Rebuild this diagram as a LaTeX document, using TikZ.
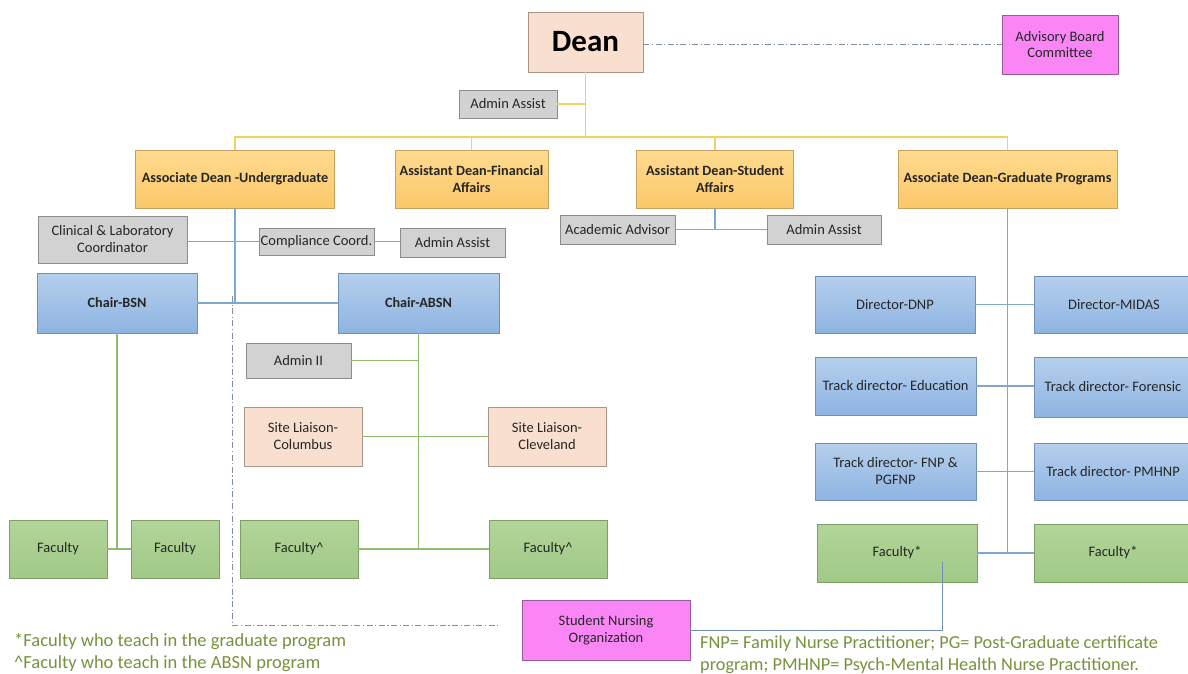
\documentclass[tikz,border=0pt]{standalone}
\usepackage{fontspec}
\setmainfont{Carlito}
\definecolor{txt}{HTML}{262626}
\definecolor{grayfill}{HTML}{D2D2D2}
\definecolor{grayline}{HTML}{8C8C8C}
\definecolor{peachfill}{HTML}{F9DFCF}
\definecolor{peachline}{HTML}{A8968A}
\definecolor{pinkfill}{HTML}{FA86F6}
\definecolor{pinkline}{HTML}{9A5A98}
\definecolor{orangetop}{HTML}{FFDA8E}
\definecolor{orangebot}{HTML}{FAC86A}
\definecolor{orangeline}{HTML}{C3A35F}
\definecolor{bluetop}{HTML}{B5CFEC}
\definecolor{bluebot}{HTML}{8EB4E2}
\definecolor{blueline}{HTML}{6F8FB8}
\definecolor{greentop}{HTML}{B2D599}
\definecolor{greenbot}{HTML}{A0C986}
\definecolor{greenline}{HTML}{7E9E66}
\definecolor{yconn}{HTML}{F0D35E}
\definecolor{bconn}{HTML}{7EA7D2}
\definecolor{gconn}{HTML}{8FBD6C}
\definecolor{dconn}{HTML}{7F8EA0}
\definecolor{notegreen}{HTML}{76923C}
\begin{document}
\begin{tikzpicture}[x=1pt,y=-1pt,
  base/.style={rectangle, line width=0.8pt, inner sep=2pt, align=center, text=txt,
    font=\fontsize{14.5}{17}\selectfont},
  sz/.style 2 args={minimum width=#1, minimum height=#2},
  graybox/.style={base, draw=grayline, fill=grayfill},
  peachbox/.style={base, draw=peachline, fill=peachfill},
  pinkbox/.style={base, draw=pinkline, fill=pinkfill, font=\fontsize{14.5}{16.5}\selectfont},
  orangebox/.style={base, draw=orangeline, top color=orangetop, bottom color=orangebot,
    font=\fontsize{14.2}{16.5}\selectfont\bfseries},
  bluebox/.style={base, draw=blueline, top color=bluetop, bottom color=bluebot},
  greenbox/.style={base, draw=greenline, top color=greentop, bottom color=greenbot},
  yl/.style={draw=yconn, line width=1.5pt},
  bl/.style={draw=bconn, line width=1.5pt},
  gl/.style={draw=gconn, line width=1.5pt},
  dashdot/.style={draw=dconn, line width=0.9pt, dash pattern=on 6pt off 2.5pt on 1.2pt off 2.5pt},
  note/.style={anchor=north west, align=left, text=notegreen, inner sep=0pt}
]
\useasboundingbox (0,0) rectangle (1188,674);

% top level
\node[peachbox, sz={115}{60}, font=\fontsize{31}{34}\selectfont\bfseries, text=black] (dean) at (585.5,42) {Dean};
\node[pinkbox, sz={116}{59}] (adv) at (1060,44.5) {Advisory Board\\Committee};
\node[graybox, sz={98}{28}] (aa1) at (508,104) {Admin Assist};

% deans
\node[orangebox, sz={199}{58}] (audg) at (235,179) {Associate Dean -Undergraduate};
\node[orangebox, sz={153}{58}] (afin) at (471.5,179) {Assistant Dean-Financial\\Affairs};
\node[orangebox, sz={157}{58}] (astu) at (715,179) {Assistant Dean-Student\\Affairs};
\node[orangebox, sz={219}{58}] (agrad) at (1007.5,179) {Associate Dean-Graduate Programs};

% undergraduate staff
\node[graybox, sz={149}{47}] (clin) at (112.5,239.5) {Clinical \& Laboratory\\Coordinator};
\node[graybox, sz={115}{27}, inner sep=0pt] (comp) at (316.5,241.5) {Compliance Coord.};
\node[graybox, sz={105}{29}] (aa2) at (452.5,242.5) {Admin Assist};
\node[graybox, sz={115}{29}] (acad) at (617.5,229.5) {Academic Advisor};
\node[graybox, sz={114}{29}] (aa3) at (824,229.5) {Admin Assist};

% chairs
\node[bluebox, sz={160}{60}, font=\fontsize{14.2}{16.5}\selectfont\bfseries] (cbsn) at (117,303) {Chair-BSN};
\node[bluebox, sz={161}{60}, font=\fontsize{14.2}{16.5}\selectfont\bfseries] (cabsn) at (418.5,303) {Chair-ABSN};
\node[graybox, sz={105}{35}] (adm2) at (298.5,360.5) {Admin II};
\node[peachbox, sz={118}{59}] (slcol) at (303,436.5) {Site Liaison-\\Columbus};
\node[peachbox, sz={118}{59}] (slcle) at (547,436.5) {Site Liaison-\\Cleveland};

% faculty undergraduate
\node[greenbox, sz={98}{58}] (fac1) at (58,549) {Faculty};
\node[greenbox, sz={88}{58}] (fac2) at (175,549) {Faculty};
\node[greenbox, sz={118}{58}] (faca1) at (299,549) {Faculty\^{}};
\node[greenbox, sz={118}{58}] (faca2) at (548,549) {Faculty\^{}};

% graduate
\node[bluebox, sz={160}{57}] (dnp) at (895,304.5) {Director-DNP};
\node[bluebox, sz={160}{57}] (midas) at (1114,304.5) {Director-MIDAS};
\node[bluebox, sz={161}{58}] (tedu) at (895.5,386) {Track director- Education};
\node[bluebox, sz={158}{60}] (tfor) at (1113,387) {Track director- Forensic};
\node[bluebox, sz={161}{57}] (tfnp) at (895.5,471.5) {Track director- FNP \&\\PGFNP};
\node[bluebox, sz={158}{57}] (tpmh) at (1113,471.5) {Track director- PMHNP};
\node[greenbox, sz={160}{58}] (facs1) at (897,553) {Faculty*};
\node[greenbox, sz={158}{58}] (facs2) at (1113,553) {Faculty*};

\node[pinkbox, sz={168}{60}] (sno) at (606,630) {Student Nursing\\Organization};

% notes
\node[note, font=\fontsize{18.5}{22}\selectfont] (n1) at (14,633) {*Faculty who teach in the graduate program\\\^{}Faculty who teach in the ABSN program};
\node[note, font=\fontsize{18.3}{21.5}\selectfont] (n2) at (700,636) {FNP= Family Nurse Practitioner; PG= Post-Graduate certificate\\program; PMHNP= Psych-Mental Health Nurse Practitioner.};

% yellow connectors
\coordinate (hb) at (585.5,137);
\draw[yl] (dean.south) -- (hb);
\draw[yl] (aa1.east) -- (aa1.east -| dean.south);
\draw[yl] (audg.north) |- (hb) -| (agrad.north);
\draw[yl] (afin.north) -- (afin.north |- hb);
\draw[yl] (astu.north) -- (astu.north |- hb);

% dashed to advisory
\draw[dashdot] (dean.east |- adv.west) -- (adv.west);

% blue undergraduate
\draw[bl] (audg.south) -- (audg.south |- cbsn.east);
\draw[bl] (cbsn.east) -- (cabsn.west);
\draw[bl] (comp.west) -- (comp.west -| clin.east);
\draw[bl] (comp.east) -- (comp.east -| aa2.west);
\draw[bl] (astu.south) -- (astu.south |- acad.east);
\draw[bl] (acad.east) -- (aa3.west);

% green undergraduate
\draw[gl] (cbsn.south) -- (cbsn.south |- fac1.east);
\draw[gl] (fac1.east) -- (fac2.west);
\draw[gl] (cabsn.south) -- (cabsn.south |- faca1.east);
\draw[gl] (adm2.east) -- (adm2.east -| cabsn.south);
\draw[gl] (slcol.east) -- (slcle.west);
\draw[gl] (faca1.east) -- (faca2.west);

% blue graduate
\draw[bl] (agrad.south) -- (agrad.south |- facs1.east);
\draw[bl] (dnp.east) -- (midas.west);
\draw[bl] (tedu.east) -- (tedu.east -| tfor.west);
\draw[bl] (tfnp.east) -- (tpmh.west);
\draw[bl] (facs1.east) -- (facs2.west);

% dash-dot to student nursing
\coordinate (ddtop) at (232,296);
\coordinate (ddend) at (500,625);
\draw[dashdot] (ddtop) |- (ddend);

% student nursing to faculty*
\coordinate (snoend) at (942,562);
\draw[draw=blueline, line width=1pt] (sno.east) -| (snoend);
\end{tikzpicture}
\end{document}
